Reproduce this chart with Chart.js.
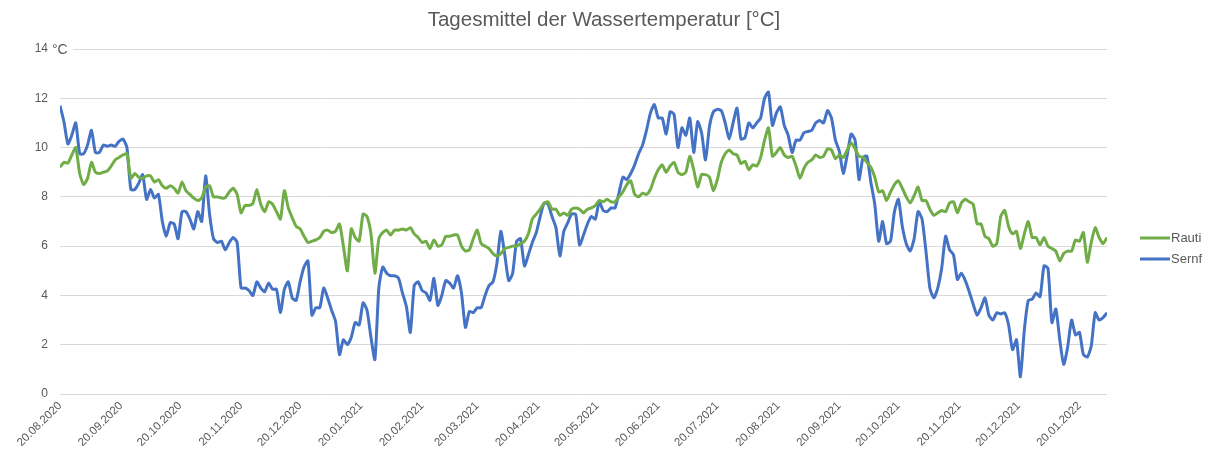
<!DOCTYPE html>
<html lang="de">
<head>
<meta charset="utf-8">
<title>Tagesmittel der Wassertemperatur</title>
<script src="https://cdn.jsdelivr.net/npm/chart.js@4.4.1/dist/chart.umd.min.js"></script>
<style>
  html, body { margin: 0; padding: 0; background: #fff; }
  #wrap { width: 1215px; height: 457px; position: relative; }
</style>
</head>
<body>
<div id="wrap"><canvas id="tempChart"></canvas></div>
<script>
const startDate = "2020-08-20";
const stepDays = 2;

const chartTitle = "Tagesmittel der Wassertemperatur [°C]";

const tickLabels = [
  "20.08.2020", "20.09.2020", "20.10.2020", "20.11.2020", "20.12.2020",
  "20.01.2021", "20.02.2021", "20.03.2021", "20.04.2021", "20.05.2021",
  "20.06.2021", "20.07.2021", "20.08.2021", "20.09.2021", "20.10.2021",
  "20.11.2021", "20.12.2021", "20.01.2022",
];

const seriesNames = ["Rauti", "Sernf"];

const rautiValues = [
  9.2, 9.4, 9.37, 9.7, 10.0, 8.95, 8.5, 8.75, 9.4, 9.0,
  8.95, 9.0, 9.05, 9.25, 9.5, 9.6, 9.7, 9.75, 8.75, 8.95,
  8.8, 8.75, 8.85, 8.85, 8.6, 8.7, 8.45, 8.35, 8.45, 8.35,
  8.15, 8.6, 8.25, 8.1, 7.95, 7.85, 7.95, 8.4, 8.45, 8.0,
  8.0, 7.95, 7.97, 8.2, 8.35, 8.1, 7.35, 7.65, 7.65, 7.73,
  8.3, 7.7, 7.4, 7.8, 7.7, 7.4, 7.1, 8.25, 7.55, 7.15,
  6.8, 6.7, 6.4, 6.15, 6.2, 6.25, 6.35, 6.6, 6.65, 6.55,
  6.6, 6.9, 6.0, 5.0, 6.7, 6.35, 6.2, 7.3, 7.2, 6.5,
  4.9, 6.3, 6.55, 6.65, 6.45, 6.65, 6.65, 6.7, 6.65, 6.75,
  6.5, 6.35, 6.15, 6.2, 5.9, 6.25, 6.0, 6.05, 6.4, 6.4,
  6.45, 6.45, 6.0, 5.8, 5.85, 6.3, 6.65, 6.1, 6.0, 5.9,
  5.7, 5.6, 5.7, 5.9, 5.95, 6.0, 6.0, 6.1, 6.2, 6.5,
  7.1, 7.3, 7.5, 7.75, 7.8, 7.5, 7.5, 7.25, 7.35, 7.25,
  7.5, 7.55, 7.5, 7.35, 7.5, 7.55, 7.65, 7.85, 7.8, 7.9,
  7.8, 7.8, 8.0, 8.2, 8.5, 8.65, 8.1, 8.0, 8.15, 8.1,
  8.3, 8.75, 9.1, 9.3, 9.0, 9.25, 9.4, 9.0, 8.9, 9.0,
  9.65, 9.1, 8.4, 8.9, 8.9, 8.8, 8.25, 8.7, 9.4, 9.75,
  9.9, 9.75, 9.7, 9.35, 9.45, 9.1, 9.3, 9.25, 9.6, 10.3,
  10.8, 9.65, 9.8, 10.0, 9.7, 9.6, 9.65, 9.25, 8.75, 9.15,
  9.4, 9.5, 9.7, 9.6, 9.65, 9.95, 9.9, 9.55, 9.7, 9.6,
  9.9, 10.2, 9.95, 9.65, 9.6, 9.4, 9.2, 8.8, 8.2, 8.25,
  7.85, 8.2, 8.5, 8.65, 8.35, 8.0, 7.75, 8.05, 8.4, 7.85,
  7.85, 7.5, 7.25, 7.35, 7.45, 7.4, 7.75, 7.8, 7.35, 7.75,
  7.9, 7.8, 7.7, 6.9, 6.9, 6.4, 6.3, 6.0, 6.1, 7.2,
  7.45, 6.8, 6.5, 6.6, 5.9, 6.5, 7.0, 6.35, 6.35, 6.05,
  6.35, 6.0, 5.9, 5.8, 5.4, 5.7, 5.8, 5.8, 6.25, 6.2,
  6.55, 5.35, 6.15, 6.75, 6.35, 6.1, 6.35,
];

const sernfValues = [
  11.7, 11.05, 10.15, 10.5, 11.0, 9.75, 9.75, 10.1, 10.7, 9.8,
  9.8, 10.1, 10.05, 10.1, 10.05, 10.25, 10.35, 10.0, 8.3, 8.3,
  8.55, 8.9, 7.9, 8.3, 7.95, 8.1, 7.0, 6.4, 6.95, 6.9,
  6.3, 7.4, 7.4, 7.1, 6.7, 7.4, 7.0, 8.85, 7.3, 6.3,
  6.15, 6.2, 5.85, 6.15, 6.35, 6.15, 4.3, 4.3, 4.2, 4.0,
  4.55, 4.3, 4.15, 4.5, 4.25, 4.25, 3.3, 4.25, 4.55, 3.9,
  3.8, 4.55, 5.15, 5.4, 3.2, 3.5, 3.5, 4.3, 3.9, 3.4,
  2.95, 1.6, 2.2, 2.0, 2.3, 2.9, 2.8, 3.7, 3.4, 2.3,
  1.4, 4.3, 5.15, 4.9, 4.8, 4.8, 4.7, 4.1, 3.55, 2.5,
  4.4, 4.55, 4.2, 4.1, 3.8, 4.7, 3.6, 4.0, 4.6, 4.5,
  4.3, 4.8, 4.1, 2.7, 3.35, 3.3, 3.5, 3.5, 4.0, 4.4,
  4.55, 5.3, 6.6, 5.65, 4.6, 4.9, 6.2, 6.3, 5.2, 5.65,
  6.15, 6.55, 7.2, 7.75, 7.7, 7.2, 6.75, 5.6, 6.6, 6.95,
  7.3, 7.3, 6.05, 6.45, 6.9, 7.2, 7.1, 7.8, 7.45, 7.4,
  7.55, 7.55, 8.15, 8.8, 8.7, 8.95, 9.3, 9.75, 10.1, 10.7,
  11.4, 11.75, 11.2, 11.2, 10.55, 11.45, 11.35, 10.0, 10.8, 10.5,
  11.2, 9.8, 11.05, 10.6, 9.5, 10.85, 11.45, 11.55, 11.5, 11.0,
  10.35, 11.0, 11.6, 10.35, 10.4, 11.0, 10.8, 11.0, 11.2, 12.0,
  12.25, 10.9, 11.4, 11.65, 10.9, 10.5, 9.8, 10.3, 10.3, 10.6,
  10.65, 10.7, 11.0, 11.1, 11.0, 11.5, 11.2, 10.3, 9.85, 8.95,
  9.7, 10.55, 10.3, 8.7, 9.6, 9.65, 8.6, 7.7, 6.2, 7.0,
  6.1, 6.2, 7.4, 7.9, 6.8, 6.1, 5.8, 6.3, 7.4, 7.1,
  5.8, 4.3, 3.9, 4.3, 5.1, 6.4, 5.85, 5.65, 4.65, 4.9,
  4.6, 4.15, 3.65, 3.2, 3.5, 3.9, 3.2, 3.0, 3.3, 3.25,
  3.3, 2.8, 1.8, 2.2, 0.7, 2.6, 3.8, 3.85, 4.1, 3.95,
  5.2, 5.1, 2.9, 3.45, 2.2, 1.2, 1.9, 3.0, 2.4, 2.5,
  1.6, 1.5, 1.95, 3.3, 3.0, 3.1, 3.3,
];

const seriesColors = ["#70ad47", "#4472c4"];
const textColor = "#595959";
const fontFamily = "'Liberation Sans', Arial, sans-serif";

// Tage seit Startdatum für ein Datum "TT.MM.JJJJ"
function dayOffset(label) {
  const [d, m, y] = label.split(".").map(Number);
  const start = new Date(startDate + "T00:00:00Z");
  return Math.round((Date.UTC(y, m - 1, d) - start.getTime()) / 86400000);
}
const tickDays = tickLabels.map(dayOffset);

function toPoints(values) {
  return values.map((v, i) => ({ x: i * stepDays, y: v }));
}

// Titel, "°C" neben der obersten Achsenbeschriftung und Legende rechts
const extrasPlugin = {
  id: "extras",
  afterDraw(chart) {
    const { ctx, chartArea, scales } = chart;
    ctx.save();

    ctx.fillStyle = textColor;
    ctx.font = "20.5px " + fontFamily;
    ctx.textAlign = "center";
    ctx.textBaseline = "middle";
    ctx.fillText(chartTitle, 604, 20);

    const y14 = scales.y.getPixelForValue(14);
    ctx.fillStyle = "#fff";
    ctx.fillRect(chartArea.left - 9, y14 - 8, 22, 16);
    ctx.fillStyle = textColor;
    ctx.font = "14px " + fontFamily;
    ctx.textAlign = "left";
    ctx.fillText("°C", chartArea.left - 8, y14 + 1);

    // Legende
    const lx = chartArea.right + 33;
    const ly = [238, 259];
    ctx.font = "13px " + fontFamily;
    chart.data.datasets.forEach((ds, i) => {
      ctx.strokeStyle = ds.borderColor;
      ctx.lineWidth = 3;
      ctx.beginPath();
      ctx.moveTo(lx, ly[i]);
      ctx.lineTo(lx + 30, ly[i]);
      ctx.stroke();
      ctx.fillStyle = textColor;
      ctx.fillText(ds.label, lx + 31, ly[i]);
    });
    ctx.restore();
  },
};

new Chart(document.getElementById("tempChart"), {
  type: "line",
  data: {
    datasets: [
      {
        label: seriesNames[0],
        data: toPoints(rautiValues),
        borderColor: seriesColors[0],
        borderWidth: 3,
        pointRadius: 0,
        tension: 0.2,
      },
      {
        label: seriesNames[1],
        data: toPoints(sernfValues),
        borderColor: seriesColors[1],
        borderWidth: 3,
        pointRadius: 0,
        tension: 0.2,
      },
    ],
  },
  options: {
    responsive: true,
    maintainAspectRatio: false,
    animation: false,
    layout: { padding: { left: 35, right: 108, top: 49, bottom: 0 } },
    plugins: {
      legend: { display: false },
      tooltip: { enabled: false },
      title: { display: false },
    },
    scales: {
      x: {
        type: "linear",
        min: 0,
        max: (rautiValues.length - 1) * stepDays,
        grid: { display: false },
        border: { display: false },
        afterBuildTicks: (axis) => {
          axis.ticks = tickDays.map((v) => ({ value: v }));
        },
        afterFit: (scale) => { scale.height = 63; },
        ticks: {
          autoSkip: false,
          minRotation: 45,
          maxRotation: 45,
          padding: -3,
          color: textColor,
          font: { family: fontFamily, size: 11.5 },
          callback: (value) => tickLabels[tickDays.indexOf(value)] ?? "",
        },
      },
      y: {
        min: 0,
        max: 14,
        border: { display: false },
        grid: { color: "#d9d9d9", lineWidth: 1, drawTicks: false },
        afterFit: (scale) => { scale.width = 25; },
        ticks: {
          stepSize: 2,
          padding: 12,
          color: textColor,
          font: { family: fontFamily, size: 12 },
        },
      },
    },
  },
  plugins: [extrasPlugin],
});
</script>
</body>
</html>
